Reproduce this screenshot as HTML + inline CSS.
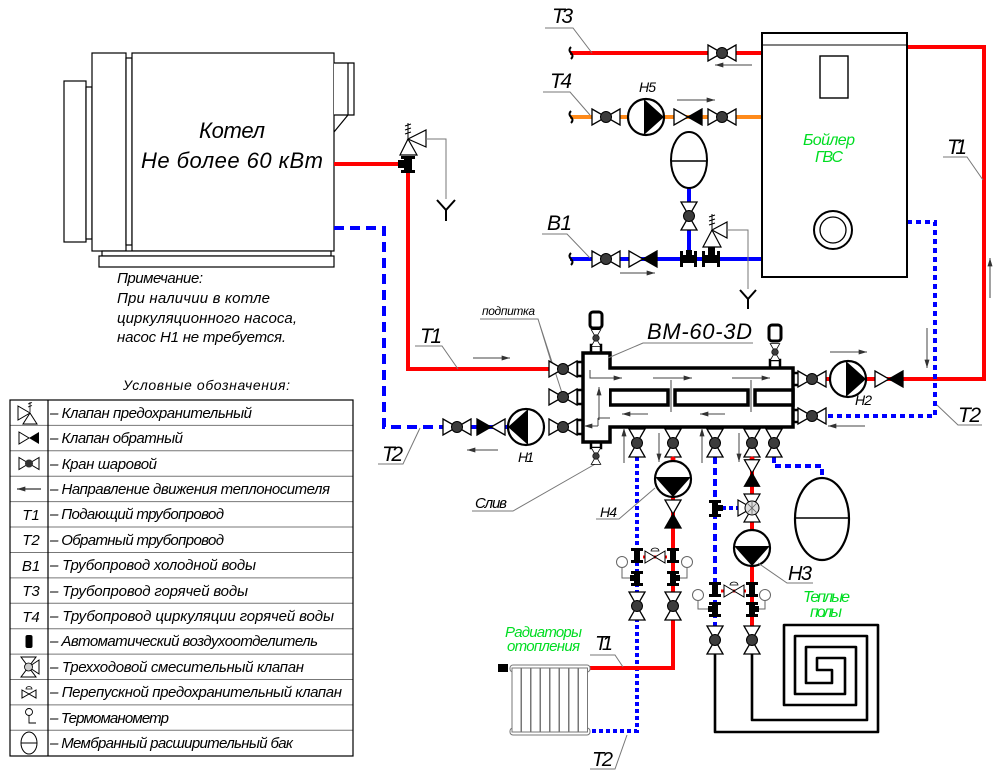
<!DOCTYPE html>
<html><head><meta charset="utf-8">
<style>
html,body{margin:0;padding:0;background:#fff;}
svg{display:block;}
text{font-family:"Liberation Sans","DejaVu Sans",sans-serif;font-style:italic;fill:#000;}
.g{fill:#00dd22;}
.ld{stroke:#777;stroke-width:1;fill:none;}
.fa{stroke:#444;stroke-width:1;fill:none;}
.sp{stroke:#000;stroke-width:3.5;fill:#fff;stroke-linejoin:miter;}
</style></head><body>
<svg width="1000" height="776" viewBox="0 0 1000 776" xmlns="http://www.w3.org/2000/svg">
<defs>
 <g id="bv"><path d="M-14,-8L0,0L-14,8ZM14,-8L0,0L14,8Z" fill="#fff" stroke="#000" stroke-width="1.3"/><circle r="5.5" fill="#3c3c3c" stroke="#000" stroke-width="1"/></g>
 <g id="cv"><path d="M-14,-8L0,0L-14,8Z" fill="#fff" stroke="#000" stroke-width="1.3"/><path d="M14,-8L0,0L14,8Z" fill="#000" stroke="#000" stroke-width="1.3"/></g>
 <g id="pump"><circle r="18" fill="#fff" stroke="#000" stroke-width="2.2"/><path d="M-2,-17.9L-2,17.9L18,0Z" fill="#000"/></g>
 <g id="fitI"><rect x="-3" y="0" width="6" height="15" fill="#000"/><rect x="-6" y="0" width="12" height="3" fill="#000"/><rect x="-6" y="12" width="12" height="3" fill="#000"/></g>
 <marker id="ar" viewBox="0 0 10 6" refX="10" refY="3" markerWidth="10" markerHeight="5" orient="auto" markerUnits="userSpaceOnUse"><path d="M0,0L10,3L0,6Z" fill="#333"/></marker>
</defs>

<!-- ============ BOILER (Котел) ============ -->
<g fill="#fff" stroke="#000" stroke-width="1.2">
 <rect x="64" y="81" width="22" height="161"/>
 <rect x="86" y="87" width="6" height="152"/>
 <rect x="92" y="53" width="34" height="198"/>
 <rect x="126" y="58" width="6" height="187"/>
 <rect x="132" y="53" width="202" height="198"/>
 <path d="M334,63H354V115H334M348,63V115M334,132L348,115"/>
 <rect x="102" y="251" width="229" height="5"/>
 <rect x="99" y="256" width="235" height="11"/>
</g>
<text x="199" y="138" font-size="22" textLength="66">Котел</text>
<text x="141" y="168" font-size="22" textLength="182">Не более 60 кВт</text>

<text x="117" y="283" font-size="15" textLength="86">Примечание:</text>
<text x="117" y="303" font-size="15" textLength="153">При наличии в котле</text>
<text x="117" y="323" font-size="15" textLength="180">циркуляционного насоса,</text>
<text x="117" y="342" font-size="15" textLength="169">насос Н1 не требуется.</text>

<!-- ============ PIPES ============ -->
<g fill="none" stroke-linejoin="miter">
 <!-- T1 boiler to separator -->
 <path d="M334,164H402" stroke="#f00" stroke-width="4"/>
 <path d="M408,173V369H552" stroke="#f00" stroke-width="4"/>
 <!-- T2 from separator to boiler -->
 <path d="M334,228H384V427H552" stroke="#00f" stroke-width="4" stroke-dasharray="10 6"/>
 <!-- T3 -->
 <path d="M570,53H762" stroke="#f00" stroke-width="4"/>
 <!-- T4 -->
 <path d="M570,117H762" stroke="#ff8a1a" stroke-width="4"/>
 <!-- B1 -->
 <path d="M570,259H762" stroke="#00f" stroke-width="4"/>
 <path d="M689,188V259" stroke="#00f" stroke-width="4"/>
 <!-- T1 right -->
 <path d="M907,47H984V379H799" stroke="#f00" stroke-width="4"/>
 <!-- T2 right -->
 <path d="M907,222H935V416H799" stroke="#00f" stroke-width="4" stroke-dasharray="5 4"/>
 <!-- lower risers -->
 <path d="M637,457V731H590" stroke="#00f" stroke-width="4" stroke-dasharray="4 3"/>
 <path d="M673,457V668H590" stroke="#f00" stroke-width="4"/>
 <path d="M715,457V640" stroke="#00f" stroke-width="4" stroke-dasharray="7 4"/>
 <path d="M715,508H740" stroke="#00f" stroke-width="4" stroke-dasharray="4 3"/>
 <path d="M752,457V640" stroke="#f00" stroke-width="4"/>
 <path d="M774,457V466H822V478" stroke="#00f" stroke-width="4" stroke-dasharray="6 4"/>
</g>

<!-- floor heating spiral -->
<path d="M715,653V732H878V625H784V705H856V647H806V683H832V670H817V658H845V694H795V636H867V720H752V653" fill="none" stroke="#000" stroke-width="2.6" stroke-linejoin="round"/>

<!-- ============ HOT WATER BOILER (Бойлер ГВС) ============ -->
<rect x="762" y="33" width="145" height="244" fill="#fff" stroke="#000" stroke-width="2"/>
<line x1="762" y1="45" x2="907" y2="45" stroke="#000" stroke-width="1"/>
<rect x="820" y="56" width="28" height="42" fill="#fff" stroke="#000" stroke-width="1.4"/>
<circle cx="833" cy="230" r="19" fill="#fff" stroke="#000" stroke-width="2"/>
<circle cx="833" cy="230" r="13" fill="none" stroke="#000" stroke-width="1.3"/>
<text class="g" x="803" y="145" font-size="16" textLength="52">Бойлер</text>
<text class="g" x="815" y="162" font-size="16" textLength="28">ГВС</text>

<!-- break symbols -->
<g stroke="#000" stroke-width="2" fill="none">
 <path d="M571,47q-3,3 0,6q3,3 0,6"/>
 <path d="M571,111q-3,3 0,6q3,3 0,6"/>
 <path d="M571,253q-3,3 0,6q3,3 0,6"/>
</g>

<!-- T3 / T4 / B1 components -->
<use href="#bv" x="722" y="53"/>
<use href="#bv" x="606" y="117"/>
<use href="#pump" x="646" y="117"/>
<use href="#cv" x="688" y="117"/>
<use href="#bv" x="722" y="117"/>
<text x="639" y="92" font-size="14" textLength="17">Н5</text>
<ellipse cx="689" cy="160" rx="18" ry="28" fill="#fff" stroke="#000" stroke-width="2"/>
<line x1="671" y1="161" x2="707" y2="161" stroke="#000" stroke-width="1.5"/>
<use href="#bv" transform="translate(689,216) rotate(90)"/>
<use href="#bv" x="606" y="259"/>
<use href="#cv" x="643" y="259"/>
<!-- tees on B1 -->
<g fill="#000">
 <rect x="680" y="255" width="17" height="8"/><rect x="680" y="251" width="3" height="16"/><rect x="694" y="251" width="3" height="16"/><rect x="686" y="250" width="6" height="6"/>
 <rect x="702" y="255" width="18" height="8"/><rect x="702" y="251" width="3" height="16"/><rect x="717" y="251" width="3" height="16"/><rect x="708" y="247" width="7" height="8"/>
</g>
<!-- safety valve on B1 -->
<path d="M712,230L703,247H721Z" fill="#fff" stroke="#000" stroke-width="1.2"/>
<path d="M712,230L727,222V238Z" fill="#fff" stroke="#000" stroke-width="1.2"/>
<path d="M712,229V214M709,217l6,-2M709,221l6,-2M709,225l6,-2" stroke="#000" stroke-width="1" fill="none"/>
<path d="M727,230H748V289" class="ld"/>
<path d="M740,290L748,299L756,290M748,299V309" stroke="#000" stroke-width="2" fill="none"/>

<!-- labels top -->
<text x="552" y="23" font-size="21" textLength="21">Т3</text>
<path d="M545,28H573L592,53" class="ld"/>
<text x="550" y="88" font-size="21" textLength="22">Т4</text>
<path d="M543,92H570L590,115" class="ld"/>
<text x="547" y="230" font-size="21" textLength="25">В1</text>
<path d="M542,234H567L590,258" class="ld"/>
<text x="947" y="154" font-size="21" textLength="20">Т1</text>
<path d="M943,157H967L983,180" class="ld"/>

<!-- flow arrows top -->
<line x1="752" y1="65" x2="715" y2="65" class="fa" marker-end="url(#ar)"/>
<line x1="677" y1="100" x2="715" y2="100" class="fa" marker-end="url(#ar)"/>
<line x1="620" y1="273" x2="655" y2="273" class="fa" marker-end="url(#ar)"/>
<line x1="990" y1="298" x2="990" y2="258" class="fa" marker-end="url(#ar)"/>
<line x1="927" y1="328" x2="927" y2="368" class="fa" marker-end="url(#ar)"/>

<!-- top-left safety valve & tee -->
<g fill="#000">
 <rect x="401" y="156" width="14" height="3"/><rect x="404" y="156" width="8" height="17"/><rect x="401" y="170" width="14" height="3"/><rect x="398" y="160" width="6" height="8"/>
</g>
<path d="M408,139L400,155H417Z" fill="#fff" stroke="#000" stroke-width="1.2"/>
<path d="M408,139L426,130V147Z" fill="#fff" stroke="#000" stroke-width="1.2"/>
<path d="M408,138V123M405,126l6,-2M405,130l6,-2M405,134l6,-2" stroke="#000" stroke-width="1" fill="none"/>
<path d="M426,139H446V199" class="ld"/>
<path d="M437,200L446,210L455,200M446,210V221" stroke="#000" stroke-width="2" fill="none"/>

<!-- ============ LEFT SIDE labels & components ============ -->
<text x="420" y="343" font-size="21" textLength="22">Т1</text>
<path d="M415,346H442L458,369" class="ld"/>
<line x1="473" y1="358" x2="510" y2="358" class="fa" marker-end="url(#ar)"/>
<text x="382" y="461" font-size="21" textLength="21">Т2</text>
<path d="M378,464H403L420,428" class="ld"/>
<line x1="498" y1="450" x2="467" y2="450" class="fa" marker-end="url(#ar)"/>
<use href="#bv" x="457" y="427"/>
<use href="#cv" transform="translate(491,427) rotate(180)"/>
<use href="#pump" transform="translate(526,427) rotate(180)"/>
<text x="518" y="462" font-size="14" textLength="16">Н1</text>

<text x="482" y="315" font-size="12" textLength="53">подпитка</text>
<path d="M480,319H538L553,368M538,319L563,396" class="ld"/>

<text x="475" y="508" font-size="15" textLength="32">Слив</text>
<path d="M472,511H513L597,463" class="ld"/>

<!-- ============ SEPARATOR ВМ-60-3D ============ -->
<!-- necks/nubs -->
<g fill="#fff" stroke="#000" stroke-width="2.5">
 <rect x="591" y="345" width="10" height="8"/>
 <rect x="591" y="442" width="10" height="6"/>
 <rect x="770" y="360" width="10" height="8"/>
 <rect x="577" y="362" width="6" height="14"/>
 <rect x="577" y="390" width="6" height="14"/>
 <rect x="577" y="420" width="6" height="14"/>
 <rect x="793" y="373" width="6" height="12"/>
 <rect x="793" y="410" width="6" height="12"/>
 <rect x="632" y="427" width="10" height="4"/>
 <rect x="668" y="427" width="10" height="4"/>
 <rect x="709" y="427" width="10" height="4"/>
 <rect x="746" y="427" width="10" height="4"/>
 <rect x="769" y="427" width="10" height="4"/>
</g>
<path class="sp" d="M583,353H610V368H793V427H610V442H583Z"/>
<rect class="sp" x="610" y="390" width="58" height="15"/>
<rect class="sp" x="675" y="390" width="73" height="15"/>
<rect class="sp" x="755" y="390" width="38" height="15"/>
<rect x="585" y="370" width="24" height="55" fill="#fff"/>
<path d="M610,370V388M610,407V425" stroke="#fff" stroke-width="4"/>
<!-- inner arrows -->
<g class="fa">
 <path d="M590,370V378H622" marker-end="url(#ar)"/>
 <line x1="653" y1="378" x2="692" y2="378" marker-end="url(#ar)"/>
 <line x1="732" y1="378" x2="770" y2="378" marker-end="url(#ar)"/>
 <line x1="648" y1="414" x2="622" y2="414" marker-end="url(#ar)"/>
 <line x1="725" y1="414" x2="700" y2="414" marker-end="url(#ar)"/>
 <path d="M671,380V412M751,380V412"/>
 <line x1="599" y1="420" x2="599" y2="387" marker-end="url(#ar)"/>
 <path d="M598,418H610M598,418V426" />
 <line x1="598" y1="426" x2="584" y2="426" marker-end="url(#ar)"/>
</g>
<!-- air vents -->
<g>
 <rect x="590" y="312" width="12" height="16" rx="3" fill="#fff" stroke="#000" stroke-width="3"/>
 <use href="#bv" transform="translate(596,338) rotate(90) scale(0.6)"/>
 <rect x="769" y="325" width="12" height="16" rx="3" fill="#fff" stroke="#000" stroke-width="3"/>
 <use href="#bv" transform="translate(775,352) rotate(90) scale(0.6)"/>
 <use href="#bv" transform="translate(596,456) rotate(90) scale(0.6)"/>
</g>
<!-- left valves -->
<use href="#bv" x="563" y="369"/>
<use href="#bv" x="563" y="397"/>
<use href="#bv" x="563" y="427"/>
<!-- right valves -->
<use href="#bv" x="812" y="379"/>
<use href="#bv" x="812" y="416"/>
<use href="#pump" x="848" y="379"/>
<use href="#cv" x="889" y="379"/>
<text x="855" y="405" font-size="14" textLength="17">Н2</text>
<line x1="830" y1="352" x2="867" y2="352" class="fa" marker-end="url(#ar)"/>
<line x1="865" y1="426" x2="828" y2="426" class="fa" marker-end="url(#ar)"/>
<text x="958" y="422" font-size="21" textLength="23">Т2</text>
<path d="M937,405L958,425H982" class="ld"/>
<!-- label BM -->
<text x="647" y="339" font-size="22" textLength="105">ВМ-60-3D</text>
<path d="M753,343H643L608,358" class="ld"/>

<!-- bottom valves of separator -->
<use href="#bv" transform="translate(637,443) rotate(90)"/>
<use href="#bv" transform="translate(673,443) rotate(90)"/>
<use href="#bv" transform="translate(715,443) rotate(90)"/>
<use href="#bv" transform="translate(752,443) rotate(90)"/>
<use href="#bv" transform="translate(774,443) rotate(90)"/>
<circle cx="673" cy="459" r="2.5" fill="#f00"/>
<circle cx="752" cy="459" r="2.5" fill="#f00"/>
<g class="fa">
 <line x1="624" y1="463" x2="624" y2="428" marker-end="url(#ar)"/>
 <line x1="659" y1="433" x2="659" y2="462" marker-end="url(#ar)"/>
 <line x1="702" y1="463" x2="702" y2="428" marker-end="url(#ar)"/>
 <line x1="739" y1="433" x2="739" y2="462" marker-end="url(#ar)"/>
</g>

<!-- expansion tank right -->
<ellipse cx="822" cy="519" rx="27" ry="41" fill="#fff" stroke="#000" stroke-width="2.2"/>
<line x1="795" y1="518" x2="849" y2="518" stroke="#000" stroke-width="1.5"/>

<!-- H4 branch -->
<use href="#pump" transform="translate(673,479) rotate(90)"/>
<use href="#cv" transform="translate(673,514) rotate(90)"/>
<text x="600" y="517" font-size="14" textLength="17">Н4</text>
<path d="M596,519H619L655,488" class="ld"/>

<!-- mixing branch -->
<use href="#cv" transform="translate(752,473) rotate(90) scale(0.95)"/>
<g fill="#000"><rect x="712" y="500" width="6" height="17"/><rect x="709" y="500" width="12" height="3"/><rect x="709" y="514" width="12" height="3"/><rect x="718" y="505" width="5" height="6"/></g>
<path d="M752,508L744,494H760Z" fill="#fff" stroke="#000" stroke-width="1.2"/>
<path d="M752,508L744,522H760Z" fill="#fff" stroke="#000" stroke-width="1.2"/>
<path d="M752,508L738,500V516Z" fill="#fff" stroke="#000" stroke-width="1.2"/>
<circle cx="752" cy="508" r="7" fill="#ddd" stroke="#000" stroke-width="1"/>
<path d="M747,503l10,10M757,503l-10,10M752,501v14" stroke="#666" stroke-width="0.8"/>
<use href="#pump" transform="translate(752,548) rotate(90)"/>
<text x="788" y="580" font-size="20" textLength="24">Н3</text>
<path d="M813,583H787L758,563" class="ld"/>

<!-- fittings set 1 (x 637/673) -->
<use href="#fitI" x="637" y="548"/>
<use href="#fitI" x="637" y="571"/>
<use href="#fitI" x="673" y="548"/>
<use href="#fitI" x="673" y="571"/>
<rect x="630" y="575" width="5" height="6" fill="#000"/>
<rect x="675" y="575" width="5" height="6" fill="#000"/>
<path d="M643,557H667" stroke="#f00" stroke-width="3"/>
<path d="M645,551L655,557L645,563ZM665,551L655,557L665,563Z" fill="#fff" stroke="#000" stroke-width="1"/>
<path d="M651,551a4,3 0 0 1 8,0Z" fill="#fff" stroke="#000" stroke-width="0.8"/>
<g stroke="#666" stroke-width="1" fill="#fff">
 <path d="M622,567V578H630M687,567V578H680" fill="none"/>
 <circle cx="622" cy="562" r="5.5"/><circle cx="687" cy="562" r="5.5"/>
</g>
<use href="#bv" transform="translate(637,606) rotate(90)"/>
<use href="#bv" transform="translate(673,606) rotate(90)"/>

<!-- fittings set 2 (x 715/752) -->
<use href="#fitI" x="715" y="582"/>
<use href="#fitI" x="715" y="602"/>
<use href="#fitI" x="752" y="582"/>
<use href="#fitI" x="752" y="602"/>
<rect x="708" y="606" width="5" height="6" fill="#000"/>
<rect x="754" y="606" width="5" height="6" fill="#000"/>
<path d="M721,591H746" stroke="#f00" stroke-width="3"/>
<path d="M724,585L734,591L724,597ZM744,585L734,591L744,597Z" fill="#fff" stroke="#000" stroke-width="1"/>
<path d="M730,585a4,3 0 0 1 8,0Z" fill="#fff" stroke="#000" stroke-width="0.8"/>
<g stroke="#666" stroke-width="1" fill="#fff">
 <path d="M698,600V609H708M765,600V609H759" fill="none"/>
 <circle cx="698" cy="595" r="5.5"/><circle cx="765" cy="595" r="5.5"/>
</g>
<use href="#bv" transform="translate(715,640) rotate(90)"/>
<use href="#bv" transform="translate(752,640) rotate(90)"/>

<text class="g" x="803" y="602" font-size="16" textLength="47">Теплые</text>
<text class="g" x="810" y="617" font-size="16" textLength="32">полы</text>

<!-- radiator -->
<g fill="#fff" stroke="#777" stroke-width="1">
 <rect x="510" y="665" width="80" height="7" rx="3"/>
 <rect x="510" y="728" width="80" height="7" rx="3"/>
 <rect x="512" y="668" width="9" height="64"/>
 <rect x="521.5" y="668" width="9" height="64"/>
 <rect x="531" y="668" width="9" height="64"/>
 <rect x="540.5" y="668" width="9" height="64"/>
 <rect x="550" y="668" width="9" height="64"/>
 <rect x="559.5" y="668" width="9" height="64"/>
 <rect x="569" y="668" width="9" height="64"/>
 <rect x="578.5" y="668" width="9" height="64"/>
</g>
<rect x="498" y="664" width="10" height="8" fill="#000"/>
<text class="g" x="505" y="637" font-size="15" textLength="77">Радиаторы</text>
<text class="g" x="507" y="651" font-size="15" textLength="73">отопления</text>
<text x="595" y="650" font-size="20" textLength="18">Т1</text>
<path d="M590,655H615L623,667" class="ld"/>
<text x="592" y="766" font-size="20" textLength="21">Т2</text>
<path d="M590,769H615L627,735" class="ld"/>

<!-- ============ LEGEND ============ -->
<text x="123" y="390" font-size="14" textLength="167">Условные обозначения:</text>
<g stroke="#777" stroke-width="1">
 <line x1="10" y1="425.4" x2="353" y2="425.4"/><line x1="10" y1="450.8" x2="353" y2="450.8"/>
 <line x1="10" y1="476.2" x2="353" y2="476.2"/><line x1="10" y1="501.6" x2="353" y2="501.6"/>
 <line x1="10" y1="527" x2="353" y2="527"/><line x1="10" y1="552.5" x2="353" y2="552.5"/>
 <line x1="10" y1="577.9" x2="353" y2="577.9"/><line x1="10" y1="603.3" x2="353" y2="603.3"/>
 <line x1="10" y1="628.7" x2="353" y2="628.7"/><line x1="10" y1="654.1" x2="353" y2="654.1"/>
 <line x1="10" y1="679.5" x2="353" y2="679.5"/><line x1="10" y1="704.9" x2="353" y2="704.9"/>
 <line x1="10" y1="730.3" x2="353" y2="730.3"/>
</g>
<rect x="10" y="400" width="343" height="356" fill="none" stroke="#000" stroke-width="1.2"/>
<line x1="48" y1="400" x2="48" y2="756" stroke="#000" stroke-width="1.2"/>
<g font-size="15">
 <text x="50" y="418" textLength="202">– Клапан предохранительный</text>
 <text x="50" y="443" textLength="133">– Клапан обратный</text>
 <text x="50" y="469" textLength="107">– Кран шаровой</text>
 <text x="50" y="494" textLength="280">– Направление движения теплоносителя</text>
 <text x="50" y="519" textLength="174">– Подающий трубопровод</text>
 <text x="50" y="545" textLength="174">– Обратный трубопровод</text>
 <text x="50" y="570" textLength="206">– Трубопровод холодной воды</text>
 <text x="50" y="596" textLength="198">– Трубопровод горячей воды</text>
 <text x="50" y="621" textLength="284">– Трубопровод циркуляции горячей воды</text>
 <text x="50" y="646" textLength="268">– Автоматический воздухоотделитель</text>
 <text x="50" y="672" textLength="254">– Трехходовой смесительный клапан</text>
 <text x="50" y="697" textLength="292">– Перепускной предохранительный клапан</text>
 <text x="50" y="723" textLength="119">– Термоманометр</text>
 <text x="50" y="748" textLength="243">– Мембранный расширительный бак</text>
</g>
<g font-size="15" text-anchor="middle">
 <text x="31" y="520">Т1</text>
 <text x="31" y="545">Т2</text>
 <text x="31" y="571">В1</text>
 <text x="31" y="596">Т3</text>
 <text x="31" y="622">Т4</text>
</g>
<!-- legend icons -->
<path d="M18,406L30,413L18,420Z" fill="#fff" stroke="#000" stroke-width="1"/>
<path d="M30,413L23,424H37Z" fill="#fff" stroke="#000" stroke-width="1"/>
<path d="M30,412V402M28,404l4,-1.5M28,407l4,-1.5" stroke="#000" stroke-width="0.8"/>
<path d="M19,432L29,438L19,444Z" fill="#fff" stroke="#000" stroke-width="1"/>
<path d="M39,432L29,438L39,444Z" fill="#000"/>
<path d="M19,457.5L29,463.5L19,469.5ZM39,457.5L29,463.5L39,469.5Z" fill="#fff" stroke="#000" stroke-width="1"/>
<circle cx="29" cy="463.5" r="4" fill="#333"/>
<line x1="41" y1="489" x2="17" y2="489" stroke="#333" stroke-width="1.2" marker-end="url(#ar)"/>
<rect x="25.5" y="635" width="7" height="13" rx="2" fill="#000"/>
<path d="M21,657L36,657L28.5,667ZM21,677L36,677L28.5,667Z" fill="#fff" stroke="#000" stroke-width="1"/>
<path d="M28.5,667L39,660V674Z" fill="#fff" stroke="#000" stroke-width="1"/>
<circle cx="28.5" cy="667" r="4" fill="#ccc" stroke="#000" stroke-width="0.8"/>
<path d="M22,690L29,694L22,698ZM36,690L29,694L36,698Z" fill="#fff" stroke="#000" stroke-width="1"/>
<path d="M26,689a3,2.5 0 0 1 6,0Z" fill="#fff" stroke="#000" stroke-width="0.8"/>
<circle cx="29" cy="712" r="3.5" fill="#fff" stroke="#000" stroke-width="0.9"/>
<path d="M29,715.5V723H36" stroke="#000" stroke-width="0.9" fill="none"/>
<ellipse cx="29" cy="743" rx="8" ry="11" fill="#fff" stroke="#000" stroke-width="1"/>
<line x1="21" y1="743" x2="37" y2="743" stroke="#000" stroke-width="1"/>
</svg>
</body></html>
